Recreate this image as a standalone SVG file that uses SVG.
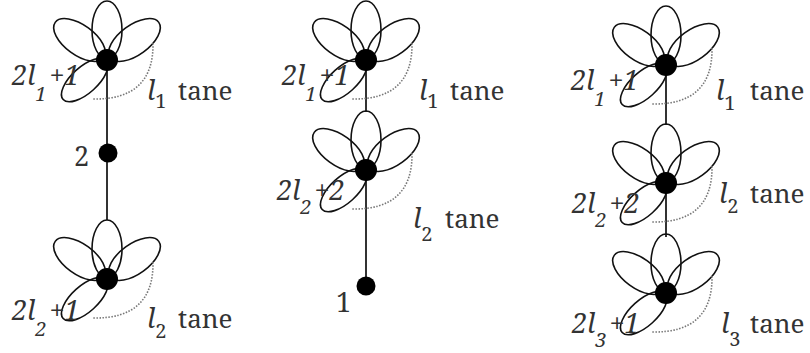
<svg xmlns="http://www.w3.org/2000/svg" xmlns:xlink="http://www.w3.org/1999/xlink" width="810" height="353" viewBox="0 0 810 353">
<style>
.petal{fill:none;stroke:#111;stroke-width:1.6}
.hub{fill:#000}
.arc{fill:none;stroke:#777;stroke-width:1.6;stroke-dasharray:1.5 1.5}
.stem{stroke:#333;stroke-width:2}
.lbl{fill:#333;font-size:27px}
.it{font-style:italic}
.sub{font-size:20px}
.tn{font-size:26px}
</style>
<defs>
<g id="flower">
<ellipse class="petal" cx="0" cy="-30" rx="15" ry="29"/>
<ellipse class="petal" cx="0" cy="-34" rx="15" ry="30" transform="rotate(-54)"/>
<ellipse class="petal" cx="0" cy="-34" rx="15" ry="30" transform="rotate(54)"/>
<ellipse class="petal" cx="0" cy="-30" rx="13" ry="29" transform="rotate(-132)"/>
<path class="arc" d="M46,-17 Q47,40 -14,39"/>
<circle class="hub" r="11"/>
</g>
</defs>
<g id="connectors">
<line class="stem" x1="107" y1="60" x2="107" y2="220"/>
<line class="stem" x1="366" y1="60" x2="366" y2="112"/>
<line class="stem" x1="366" y1="170" x2="366" y2="287"/>
<line class="stem" x1="666" y1="65" x2="666" y2="125"/>
<line class="stem" x1="666" y1="183" x2="666" y2="237"/>
</g>
<g font-family="'Noto Serif', 'DejaVu Serif', serif">
<g id="flowerA">
<use xlink:href="#flower" href="#flower" x="107" y="60"/>
<text class="lbl it" x="12" y="85">2l<tspan class="sub" dy="16">1</tspan><tspan dx="3" dy="-16">+1</tspan></text>
<text class="lbl" x="147" y="100"><tspan class="it">l</tspan><tspan class="sub" dy="8">1</tspan><tspan class="tn" x="178" dy="-8">tane</tspan></text>
</g>
<g id="node2">
<circle class="hub" cx="108" cy="153" r="9.5"/>
<text class="lbl" x="74" y="166">2</text>
</g>
<g id="flowerB">
<use xlink:href="#flower" href="#flower" x="107" y="279"/>
<text class="lbl it" x="12" y="320">2l<tspan class="sub" dy="16">2</tspan><tspan dx="3" dy="-16">+1</tspan></text>
<text class="lbl" x="147" y="328"><tspan class="it">l</tspan><tspan class="sub" dy="10">2</tspan><tspan class="tn" x="178" dy="-10">tane</tspan></text>
</g>
<g id="flowerC">
<use xlink:href="#flower" href="#flower" x="366" y="60"/>
<text class="lbl it" x="282" y="85">2l<tspan class="sub" dy="16">1</tspan><tspan dx="3" dy="-16">+1</tspan></text>
<text class="lbl" x="419" y="100"><tspan class="it">l</tspan><tspan class="sub" dy="8">1</tspan><tspan class="tn" x="450" dy="-8">tane</tspan></text>
</g>
<g id="flowerD">
<use xlink:href="#flower" href="#flower" x="366" y="170"/>
<text class="lbl it" x="277" y="200">2l<tspan class="sub" dy="14">2</tspan><tspan dx="3" dy="-14">+2</tspan></text>
<text class="lbl" x="413" y="228"><tspan class="it">l</tspan><tspan class="sub" dy="13">2</tspan><tspan class="tn" x="445" dy="-13">tane</tspan></text>
</g>
<g id="node1">
<circle class="hub" cx="366" cy="286" r="9.5"/>
<text class="lbl" x="336" y="312">1</text>
</g>
<g id="flowerE">
<use xlink:href="#flower" href="#flower" x="666" y="65"/>
<text class="lbl it" x="571" y="90">2l<tspan class="sub" dy="16">1</tspan><tspan dx="3" dy="-16">+1</tspan></text>
<text class="lbl" x="716" y="100"><tspan class="it">l</tspan><tspan class="sub" dy="10">1</tspan><tspan class="tn" x="750" dy="-10">tane</tspan></text>
</g>
<g id="flowerF">
<use xlink:href="#flower" href="#flower" x="666" y="183"/>
<text class="lbl it" x="572" y="213">2l<tspan class="sub" dy="14">2</tspan><tspan dx="3" dy="-14">+2</tspan></text>
<text class="lbl" x="719" y="203"><tspan class="it">l</tspan><tspan class="sub" dy="10">2</tspan><tspan class="tn" x="750" dy="-10">tane</tspan></text>
</g>
<g id="flowerG">
<use xlink:href="#flower" href="#flower" x="666" y="293"/>
<text class="lbl it" x="572" y="333">2l<tspan class="sub" dy="14">3</tspan><tspan dx="3" dy="-14">+1</tspan></text>
<text class="lbl" x="721" y="333"><tspan class="it">l</tspan><tspan class="sub" dy="13">3</tspan><tspan class="tn" x="750" dy="-13">tane</tspan></text>
</g>
</g>
</svg>
